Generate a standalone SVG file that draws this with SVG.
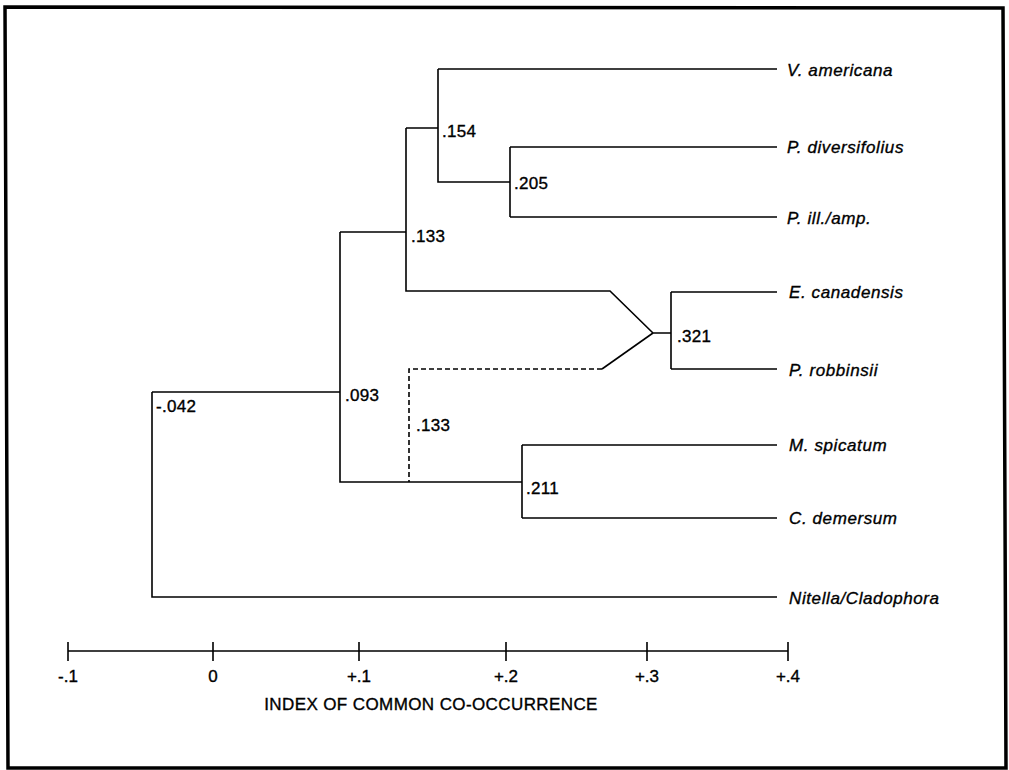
<svg xmlns="http://www.w3.org/2000/svg" width="1009" height="770" viewBox="0 0 1009 770">
<style>
.ln{fill:none;stroke:#000;stroke-width:1.6}
.dash{fill:none;stroke:#000;stroke-width:1.6;stroke-dasharray:5,3}
.lab{font-family:"Liberation Sans",Arial,sans-serif;font-style:italic;font-size:17px;letter-spacing:0.6px;fill:#000;stroke:#000;stroke-width:0.35}
.num{font-family:"Liberation Sans",Arial,sans-serif;font-size:17px;letter-spacing:0.3px;fill:#000;stroke:#000;stroke-width:0.35}
.ax{font-family:"Liberation Sans",Arial,sans-serif;font-size:17px;fill:#000;stroke:#000;stroke-width:0.35;text-anchor:middle}
</style>
<rect width="1009" height="770" fill="#fff"/>
<path d="M5,7 L1003,8 L1006,768 L8,768 Z" fill="none" stroke="#000" stroke-width="3.5"/>
<g id="connectors">
<path class="ln" d="M438,69 H777 M438,69 V182 H510 M510,147 V217 M510,147 H777 M510,217 H777"/>
<path class="ln" d="M406,128 H438 M406,128 V291 H610 L653,333 H671 M671,292 V369 M671,292 H777 M671,369 H777"/>
<path class="ln" d="M602,369 L653,333"/>
<path class="dash" d="M602,369 H409 V482"/>
<path class="ln" d="M340,232 H406 M340,232 V482 H522 M522,445 V518 M522,445 H777 M522,518 H777"/>
<path class="ln" d="M152,392 H340 M152,392 V597 H777"/>
</g>
<g id="n154"><text class="num" x="442" y="137">.154</text></g>
<g id="n205"><text class="num" x="514" y="189">.205</text></g>
<g id="n133a"><text class="num" x="411" y="242">.133</text></g>
<g id="n321"><text class="num" x="677" y="342">.321</text></g>
<g id="n093"><text class="num" x="345" y="401">.093</text></g>
<g id="n133b"><text class="num" x="416" y="431">.133</text></g>
<g id="n211"><text class="num" x="526" y="494">.211</text></g>
<g id="n042"><text class="num" x="156" y="412">-.042</text></g>
<g id="leaf-va"><text class="lab" x="787" y="76">V. americana</text></g>
<g id="leaf-pd"><text class="lab" x="787" y="153">P. diversifolius</text></g>
<g id="leaf-pi"><text class="lab" x="787" y="224">P. ill./amp.</text></g>
<g id="leaf-ec"><text class="lab" x="789" y="298">E. canadensis</text></g>
<g id="leaf-pr"><text class="lab" x="789" y="376">P. robbinsii</text></g>
<g id="leaf-ms"><text class="lab" x="789" y="451">M. spicatum</text></g>
<g id="leaf-cd"><text class="lab" x="789" y="524">C. demersum</text></g>
<g id="leaf-nc"><text class="lab" x="789" y="604">Nitella/Cladophora</text></g>
<g id="axis">
<path class="ln" d="M68,651 H788 M68,642 V661 M213,642 V661 M359,642 V661 M506,642 V661 M647,642 V661 M788,642 V661"/>
<text class="ax" x="68" y="682">-.1</text>
<text class="ax" x="213" y="682">0</text>
<text class="ax" x="359" y="682">+.1</text>
<text class="ax" x="506" y="682">+.2</text>
<text class="ax" x="647" y="682">+.3</text>
<text class="ax" x="788" y="682">+.4</text>
<text class="ax" x="431" y="710" letter-spacing="0.4">INDEX OF COMMON CO-OCCURRENCE</text>
</g>
</svg>
